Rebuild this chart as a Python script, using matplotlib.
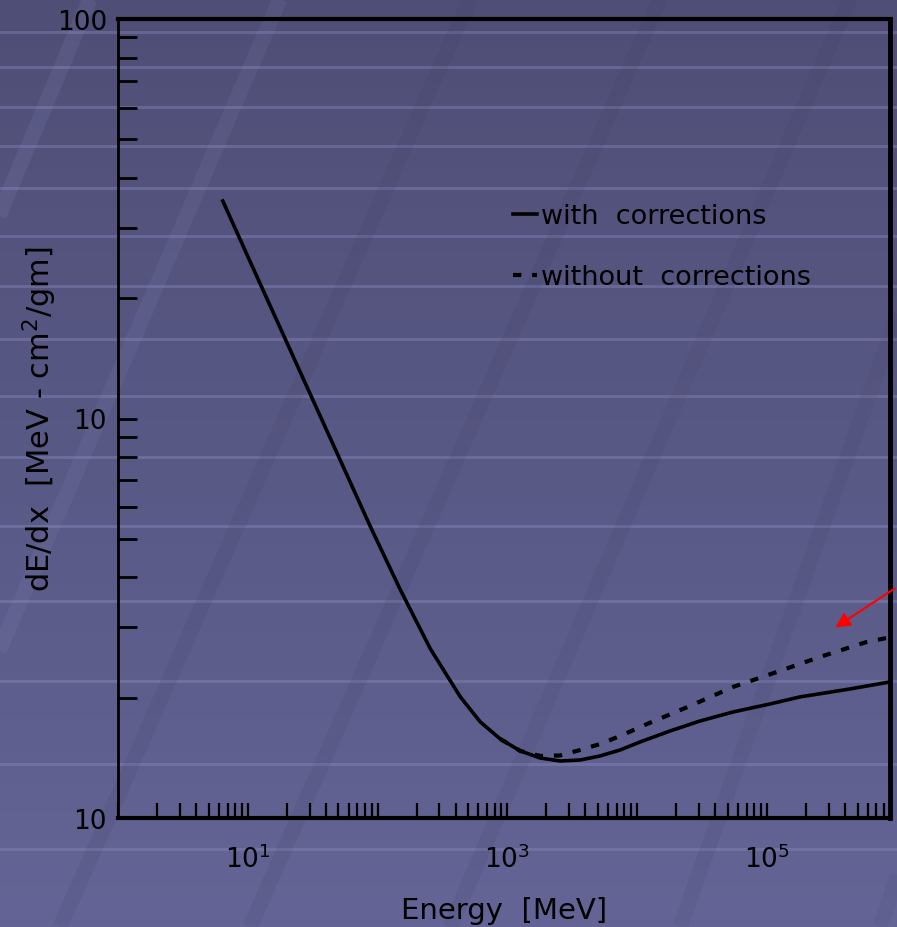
import numpy as np
import matplotlib
matplotlib.use('Agg')
import matplotlib.pyplot as plt
from matplotlib.ticker import FixedLocator, FixedFormatter, LogLocator, NullFormatter

#%% data
energy_with = [6.42, 10.55, 17.94, 30.52, 51.94, 88.36, 150.3, 255.7, 435.0, 620.0,
               883.6, 1259, 1794, 2557, 3644, 5194, 7402, 10550, 17940, 30520,
               54760, 105500, 179400, 435000, 883600]
dedx_with = [35.03, 24.50, 16.75, 11.45, 7.83, 5.35, 3.72, 2.649, 2.009, 1.739,
             1.577, 1.472, 1.413, 1.389, 1.397, 1.430, 1.480, 1.550, 1.651, 1.749,
             1.842, 1.929, 2.009, 2.103, 2.190]

energy_without = [883.6, 1259, 1794, 2557, 3644, 5194, 7402, 11940, 25570, 54760,
                  119400, 255700, 587600, 837700]
dedx_without = [1.577, 1.472, 1.430, 1.434, 1.480, 1.532, 1.604, 1.719, 1.907, 2.128,
                2.320, 2.529, 2.758, 2.822]

x_labels = ['$10^{1}$', '$10^{3}$', '$10^{5}$']
x_label_pos = [10, 1e3, 1e5]
y_labels = ['10', '10', '100']
y_label_pos = [1, 10, 100]

legend_labels = ['with  corrections', 'without  corrections']

#%% figure + slide background
W, H = 897, 928
fig = plt.figure(figsize=(W/100, H/100), dpi=100)

bg = fig.add_axes([0, 0, 1, 1])
bg.set_xlim(0, W)
bg.set_ylim(H, 0)
bg.axis('off')
top_c = np.array([78, 78, 118])/255
bot_c = np.array([100, 100, 150])/255
t = np.linspace(0, 1, 256)[:, None, None]
grad = top_c*(1-t) + bot_c*t
grad = np.repeat(grad, 2, axis=1)
bg.imshow(grad, extent=[0, W, H, 0], aspect='auto', zorder=0)

# faint horizontal stripes of the slide template
stripes = [33, 68, 108, 147, 189, 237, 287, 340, 397, 458, 527, 602, 682, 765, 850]
for s in stripes:
    bg.axhline(s, color='#8a8ac0', lw=2.2, alpha=0.4, zorder=1)

# slanted bands
for xb, xt, c, a in [(-300, 90, '#9a9ad0', 0.13), (-120, 280, '#9a9ad0', 0.10),
                     (60, 470, '#3a3a60', 0.12), (250, 660, '#3a3a60', 0.12),
                     (450, 850, '#3a3a60', 0.10), (680, 1010, '#3a3a60', 0.10),
                     (880, 1200, '#3a3a60', 0.08)]:
    bg.plot([xb, xt], [H, 0], color=c, lw=11, alpha=a, zorder=1, solid_capstyle='butt')

#%% main plot
ax = fig.add_axes([118/W, 1-819/H, (890-118)/W, (819-20)/H])
ax.patch.set_alpha(0)

l1, = ax.plot(energy_with, dedx_with, color='black', lw=2.6)
l2, = ax.plot(energy_without, dedx_without, color='black', lw=3,
              linestyle=(0, (2, 2.6)))

ax.set_xscale('log')
ax.set_yscale('log')
ax.set_xlim(1, 8.9e5)
ax.set_ylim(1, 100)

ax.xaxis.set_major_locator(FixedLocator(x_label_pos))
ax.xaxis.set_major_formatter(FixedFormatter(x_labels))
ax.xaxis.set_minor_locator(LogLocator(base=10, subs=np.arange(1, 10)))
ax.xaxis.set_minor_formatter(NullFormatter())
ax.yaxis.set_major_locator(FixedLocator(y_label_pos))
ax.yaxis.set_major_formatter(FixedFormatter(y_labels))
ax.yaxis.set_minor_locator(LogLocator(base=10, subs=np.arange(2, 10)))
ax.yaxis.set_minor_formatter(NullFormatter())

ax.tick_params(axis='x', which='both', direction='in', length=11, width=1.6,
               color='black', labelsize=19, pad=19)
ax.tick_params(axis='y', which='both', direction='in', length=14, width=2,
               color='black', labelsize=19, pad=8)

for side, lw in [('left', 2), ('bottom', 3), ('top', 3), ('right', 3.5)]:
    ax.spines[side].set_linewidth(lw)
    ax.spines[side].set_color('black')

ax.set_xlabel('Energy  [MeV]', fontsize=21, labelpad=17)
ax.set_ylabel('dE/dx  [MeV - cm$^2$/gm]', fontsize=22, labelpad=-2)

ax.legend([l1, l2], legend_labels, loc='upper left', bbox_to_anchor=(0.48, 0.80),
          frameon=False, fontsize=19.5, handlelength=0.9, handletextpad=0.15,
          labelspacing=1.3)

#%% red arrow pointing at the uncorrected curve
ax.annotate('', xy=(833/W, 1-630/H), xycoords='figure fraction',
            xytext=(1.0, 1-588/H), textcoords='figure fraction',
            arrowprops=dict(arrowstyle='-|>', color='red', lw=1.5,
                            mutation_scale=22), annotation_clip=False)

plt.savefig('out.png', dpi=100)
